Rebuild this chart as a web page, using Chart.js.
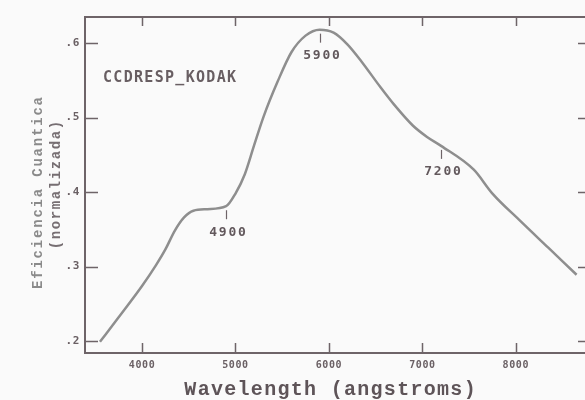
<!DOCTYPE html>
<html>
<head>
<meta charset="utf-8">
<title>CCD quantum efficiency</title>
<script src="https://cdn.jsdelivr.net/npm/chart.js@4.4.1/dist/chart.umd.min.js"></script>
<style>
  html, body { margin: 0; padding: 0; background: #fafafa; }
  canvas { display: block; }
</style>
</head>
<body>
<canvas id="ccdChart" width="585" height="400"></canvas>
<script>
// Kodak CCD response curve, normalized quantum efficiency vs wavelength (angstroms)
const wavelengths = [3550, 3750, 4000, 4150, 4250, 4350, 4450, 4550, 4700, 4900,
                     5000, 5100, 5200, 5300, 5450, 5600, 5750, 5900, 6050, 6200,
                     6350, 6550, 6700, 6900, 7050, 7200, 7550, 7750, 8050, 8350, 8650];
const efficiency  = [0.199, 0.232, 0.274, 0.302, 0.323, 0.348, 0.366, 0.375, 0.377, 0.381,
                     0.398, 0.424, 0.463, 0.501, 0.548, 0.588, 0.610, 0.618, 0.614, 0.598,
                     0.575, 0.541, 0.517, 0.489, 0.474, 0.462, 0.430, 0.398, 0.361, 0.325, 0.289];

const xTickValues = [4000, 5000, 6000, 7000, 8000];
const yTickValues = [0.2, 0.3, 0.4, 0.5, 0.6];
const markedWavelengths = [4900, 5900, 7200];

const curveName = 'CCDRESP_KODAK';
const xTitle = 'Wavelength (angstroms)';
const yTitle = ['Eficiencia Cuantica', '(normalizada)'];

const frameColor = '#6e6468';
const textColor = '#62585c';
const curveColor = '#8e8e8e';

function textSpaced(ctx, str, x, y, spacing) {
  ctx.letterSpacing = spacing + 'px';
  // letter spacing adds trailing space; shift half of it back when centred
  ctx.fillText(str, x + (ctx.textAlign === 'center' ? spacing / 2 : 0), y);
}

const framePlugin = {
  id: 'frame',
  beforeDraw(chart) {
    chart.ctx.letterSpacing = '0.6px';
  },
  afterDraw(chart) {
    const { ctx, chartArea: a, scales: { x, y } } = chart;
    ctx.save();
    ctx.strokeStyle = frameColor;

    // top edge of the frame
    ctx.lineWidth = 2;
    ctx.beginPath();
    ctx.moveTo(a.left - 1, a.top);
    ctx.lineTo(a.right, a.top);
    ctx.stroke();

    // inward tick marks on all four sides
    ctx.lineWidth = 1.5;
    ctx.beginPath();
    xTickValues.forEach(v => {
      const px = Math.round(x.getPixelForValue(v)) + 0.5;
      ctx.moveTo(px, a.bottom); ctx.lineTo(px, a.bottom - 10);
      ctx.moveTo(px, a.top);    ctx.lineTo(px, a.top + 9);
    });
    yTickValues.forEach(v => {
      const py = Math.round(y.getPixelForValue(v)) + 0.5;
      ctx.moveTo(a.left, py);      ctx.lineTo(a.left + 13, py);
      ctx.moveTo(a.right - 7, py); ctx.lineTo(a.right, py);
    });
    ctx.stroke();

    // marked wavelengths: small tick under the curve with the value below
    ctx.fillStyle = textColor;
    ctx.textAlign = 'center';
    ctx.textBaseline = 'middle';
    ctx.font = 'bold 13px "DejaVu Sans Mono"';
    ctx.lineWidth = 1.2;
    markedWavelengths.forEach(w => {
      const i = wavelengths.indexOf(w);
      const px = Math.round(x.getPixelForValue(w)) + 0.5;
      const py = y.getPixelForValue(efficiency[i]);
      ctx.beginPath();
      ctx.moveTo(px, py + 4); ctx.lineTo(px, py + 13);
      ctx.stroke();
      textSpaced(ctx, String(w), px + 1, py + 26, 1.8);
    });

    // curve name
    ctx.textAlign = 'left';
    ctx.font = 'bold 15px "DejaVu Sans Mono"';
    ctx.fillStyle = '#685e62';
    textSpaced(ctx, curveName, a.left + 18, 78, 1.3);

    // x axis title
    ctx.textAlign = 'center';
    ctx.textBaseline = 'alphabetic';
    ctx.font = 'bold 20px "Liberation Mono"';
    ctx.fillStyle = '#5e5458';
    textSpaced(ctx, xTitle, 330, 395, 1.3);

    // y axis title, two rotated lines
    ctx.font = 'bold 14px "Liberation Mono"';
    ctx.textBaseline = 'middle';
    ctx.save();
    ctx.translate(38, 193);
    ctx.rotate(-Math.PI / 2);
    ctx.fillStyle = '#8a8a8a';
    textSpaced(ctx, yTitle[0], 0, 0, 1.8);
    ctx.restore();
    ctx.save();
    ctx.translate(56, 185);
    ctx.rotate(-Math.PI / 2);
    ctx.fillStyle = '#766e72';
    textSpaced(ctx, yTitle[1], 0, 0, 1.6);
    ctx.restore();

    ctx.restore();
  }
};

new Chart(document.getElementById('ccdChart'), {
  type: 'line',
  data: {
    datasets: [{
      data: wavelengths.map((w, i) => ({ x: w, y: efficiency[i] })),
      borderColor: curveColor,
      borderWidth: 2.5,
      pointRadius: 0,
      cubicInterpolationMode: 'monotone',
      fill: false
    }]
  },
  options: {
    responsive: false,
    animation: false,
    events: [],
    layout: { padding: { top: 17, right: 0, left: 0, bottom: 0 } },
    plugins: { legend: { display: false }, tooltip: { enabled: false } },
    scales: {
      x: {
        type: 'linear',
        min: 3390,
        max: 8740,
        afterBuildTicks: s => { s.ticks = xTickValues.map(v => ({ value: v })); },
        afterFit: s => { s.height = 47; },
        grid: { display: false, drawTicks: false },
        border: { display: true, color: frameColor, width: 2 },
        ticks: {
          padding: 6,
          maxRotation: 0,
          autoSkip: false,
          color: '#6a6064',
          font: { family: 'DejaVu Sans Mono', size: 10, weight: 'bold' },
          callback: v => String(v)
        }
      },
      y: {
        type: 'linear',
        min: 0.184,
        max: 0.635,
        afterBuildTicks: s => { s.ticks = yTickValues.map(v => ({ value: v })); },
        afterFit: s => { s.width = 85; },
        grid: { display: false, drawTicks: false },
        border: { display: true, color: frameColor, width: 2 },
        ticks: {
          padding: 5,
          autoSkip: false,
          color: '#6a6064',
          font: { family: 'DejaVu Sans Mono', size: 11, weight: 'bold' },
          callback: v => String(v.toFixed(1)).replace(/^0/, '')
        }
      }
    }
  },
  plugins: [framePlugin]
});
</script>
</body>
</html>
